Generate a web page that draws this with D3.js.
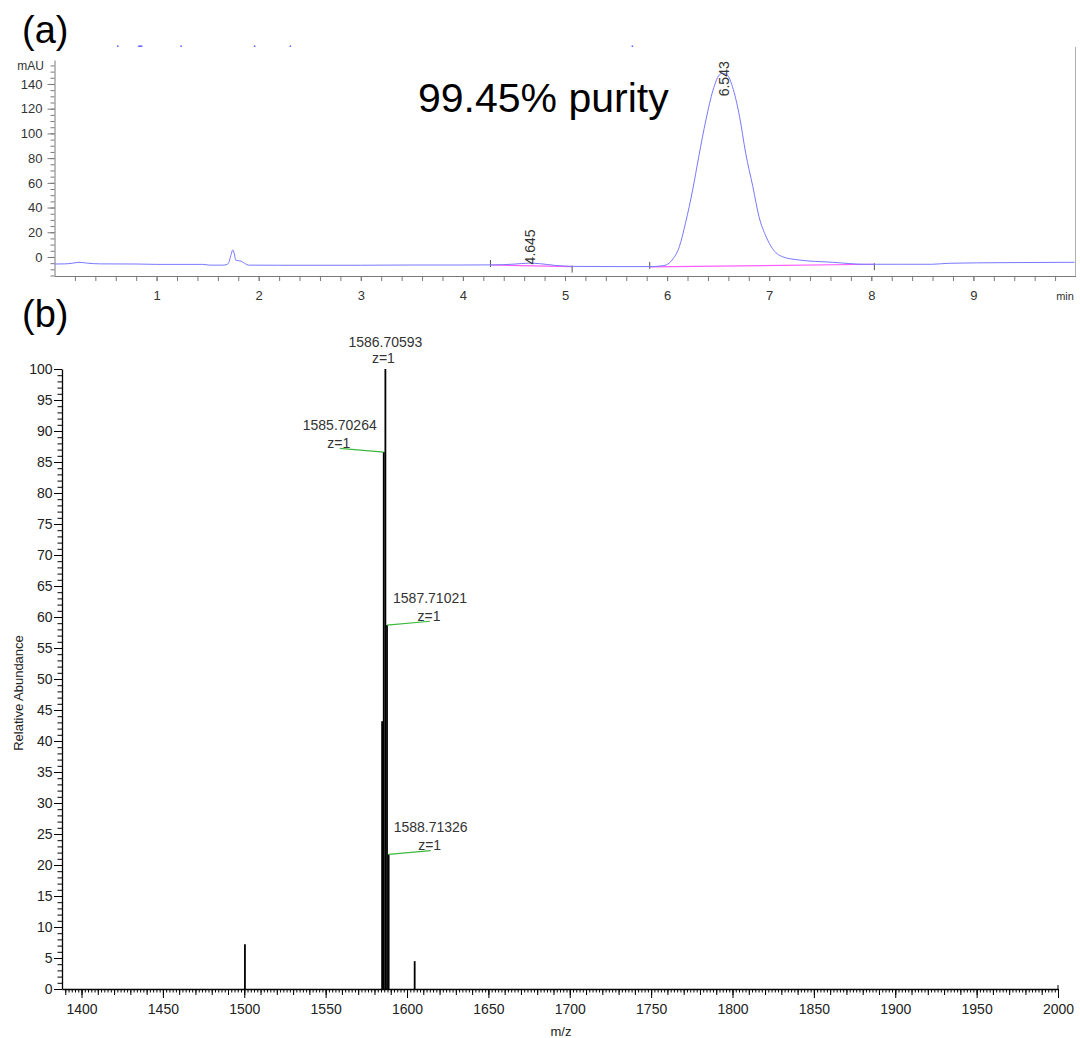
<!DOCTYPE html>
<html><head><meta charset="utf-8">
<script src="https://cdn.jsdelivr.net/npm/d3@7"></script>
<style>
body{margin:0;background:#fff}
svg{display:block}
text{font-family:"Liberation Sans",Arial,Helvetica,sans-serif}
</style>
</head><body>
<svg id="chart" width="1080" height="1038"></svg>
<script>
// ---------- Panel (a): HPLC chromatogram ----------
const hplcTime = [0.00,0.10,0.18,0.24,0.32,0.45,0.80,1.00,1.20,1.45,1.52,1.66,1.70,1.73,1.745,1.76,1.775,1.80,1.83,1.87,1.90,2.20,3.00,3.50,4.00,4.30,4.50,4.645,4.75,4.90,5.07,5.50,5.83,5.95,5.99,6.05,6.12,6.18,6.25,6.31,6.38,6.45,6.51,6.54,6.59,6.64,6.71,6.77,6.84,6.90,6.97,7.03,7.13,7.29,7.62,7.94,8.27,8.60,8.76,9.30,9.99];
const hplcAbs  = [-5.7,-5.6,-5.0,-4.3,-5.0,-5.6,-5.7,-6.0,-6.0,-6.0,-6.6,-6.6,-5.5,2.0,5.7,3.0,-2.5,-3.0,-3.5,-5.5,-6.6,-6.7,-6.7,-6.5,-6.5,-6.4,-5.8,-5.0,-5.4,-6.8,-7.6,-7.8,-7.8,-7.2,-6.5,-2.4,8.3,27.3,54.2,81.2,110.8,135.1,147.2,148.6,147.2,137.8,113.5,83.9,56.9,32.6,16.4,7.0,0.2,-2.4,-4.3,-5.9,-5.9,-5.9,-5.1,-4.6,-4.3];
const baseStartTime = [4.27, 5.83];
const baseStartAbs  = [-6.5, -8.0];
const baseEndTime   = [5.07, 8.03];
const baseEndAbs    = [-7.8, -5.9];
const peakRT        = [4.645, 6.543];
const peakRTLabel   = ["4.645", "6.543"];
const peakRTLabelBase = [-6.0, 130];
const artifactTimes = [0.62, 0.84, 1.24, 1.96, 2.31, 5.66];
const artifactAbs   = [170.6, 170.6, 170.6, 170.6, 170.6, 170.6];
const aXTicks = [1,2,3,4,5,6,7,8,9];
const aYTicks = [0,20,40,60,80,100,120,140];
const purityText = "99.45% purity";

// ---------- Panel (b): mass spectrum ----------
const msMz    = [1500.4, 1584.7, 1585.70264, 1586.70593, 1587.71021, 1588.71326, 1604.7];
const msAbund = [7.2, 43.2, 86.6, 100, 58.7, 21.7, 4.5];
const labelMz     = [1585.70264, 1586.70593, 1587.71021, 1588.71326];
const labelAbund  = [86.6, 100, 58.7, 21.7];
const labelText   = ["1585.70264", "1586.70593", "1587.71021", "1588.71326"];
const labelCharge = ["z=1", "z=1", "z=1", "z=1"];
const labelShiftPx = [-44, 0, 43, 42];
const bXTicks = [1400,1450,1500,1550,1600,1650,1700,1750,1800,1850,1900,1950,2000];
const bYTicks = d3.range(0, 101, 5);

const svg = d3.select("#chart");
svg.append("rect").attr("width",1080).attr("height",1038).attr("fill","#fff");

// ===== Panel (a) =====
const xa = d3.scaleLinear().domain([0,10]).range([54.5,1075.5]);
const ya = d3.scaleLinear().domain([-15.4,159.4]).range([276,60]);
const aCol = "#7a7a7a";

const aMinorX = svg.append("g").attr("transform","translate(0,276)")
  .call(d3.axisBottom(xa).tickValues(d3.range(0.2,10,0.2)).tickSize(5).tickSizeOuter(0).tickFormat(""));
const aMajorX = svg.append("g").attr("transform","translate(0,276)")
  .call(d3.axisBottom(xa).tickValues(aXTicks).tickSize(5).tickSizeOuter(0).tickPadding(10).tickFormat(d3.format("d")));
aMajorX.select(".domain").remove();
const aMinorY = svg.append("g").attr("transform","translate(54.5,0)")
  .call(d3.axisLeft(ya).tickValues(d3.range(-15,160,5)).tickSize(4).tickSizeOuter(0).tickFormat(""));
const aMajorY = svg.append("g").attr("transform","translate(54.5,0)")
  .call(d3.axisLeft(ya).tickValues(aYTicks).tickSize(7).tickPadding(5).tickFormat(d3.format("d")));
aMajorY.select(".domain").remove();
[aMinorX,aMajorX,aMinorY,aMajorY].forEach(g=>{
  g.selectAll("path,line").attr("stroke",aCol).attr("stroke-width",1);
  g.selectAll("text").attr("fill","#333").attr("font-size",13).attr("font-family","Liberation Sans, Arial, sans-serif");
});
// right border
svg.append("line").attr("x1",xa(10)).attr("x2",xa(10)).attr("y1",47).attr("y2",276)
  .attr("stroke","#b0b0b0").attr("stroke-width",1);
svg.append("text").attr("x",44).attr("y",70).attr("text-anchor","end")
  .attr("font-size",12).attr("fill","#333").text("mAU");
svg.append("text").attr("x",1065).attr("y",300).attr("text-anchor","middle")
  .attr("font-size",11).attr("fill","#333").text("min");

// integration baselines (pink)
baseStartTime.forEach((t,i)=>{
  svg.append("line").attr("x1",xa(t)).attr("y1",ya(baseStartAbs[i]))
    .attr("x2",xa(baseEndTime[i])).attr("y2",ya(baseEndAbs[i]))
    .attr("stroke","#ff5cff").attr("stroke-width",1.2);
  svg.append("line").attr("x1",xa(t)).attr("x2",xa(t))
    .attr("y1",ya(baseStartAbs[i])-5).attr("y2",ya(baseStartAbs[i])+2)
    .attr("stroke","#555").attr("stroke-width",1);
  svg.append("line").attr("x1",xa(baseEndTime[i])).attr("x2",xa(baseEndTime[i]))
    .attr("y1",ya(baseEndAbs[i])-1).attr("y2",ya(baseEndAbs[i])+6)
    .attr("stroke","#555").attr("stroke-width",1);
});

// trace
const trace = hplcTime.map((t,i)=>[t,hplcAbs[i]]);
svg.append("path").datum(trace)
  .attr("d", d3.line().x(d=>xa(d[0])).y(d=>ya(d[1])).curve(d3.curveMonotoneX))
  .attr("fill","none").attr("stroke","#7878ff").attr("stroke-width",1);

// artifact specks
svg.selectAll(".spk").data(artifactTimes).join("ellipse")
  .attr("cx",(d)=>xa(d)).attr("cy",(d,i)=>ya(artifactAbs[i]))
  .attr("rx",(d,i)=>i===1?2.5:0.9).attr("ry",0.9).attr("fill","#6a6aff");

// RT labels
peakRT.forEach((t,i)=>{
  svg.append("text")
    .attr("transform",`translate(${xa(t)+6},${ya(peakRTLabelBase[i])}) rotate(-90)`)
    .attr("font-size",14).attr("fill","#333").text(peakRTLabel[i]);
});

svg.append("text").attr("x",418).attr("y",112).attr("font-size",41).attr("fill","#000").text(purityText);
svg.append("text").attr("x",22).attr("y",42.5).attr("font-size",38).attr("fill","#000").text("(a)");

// ===== Panel (b) =====
const xb = d3.scaleLinear().domain([1388,2000]).range([62,1058]);
const yb = d3.scaleLinear().domain([0,100]).range([989,369]);

const bX2 = svg.append("g").attr("transform","translate(0,989)")
  .call(d3.axisBottom(xb).tickValues(d3.range(1390,2000.1,2)).tickSize(3.5).tickSizeOuter(0).tickFormat(""));
const bX10 = svg.append("g").attr("transform","translate(0,989)")
  .call(d3.axisBottom(xb).tickValues(d3.range(1390,2000.1,10)).tickSize(6).tickFormat(""));
bX10.select(".domain").remove();
const bX50 = svg.append("g").attr("transform","translate(0,989)")
  .call(d3.axisBottom(xb).tickValues(bXTicks).tickSize(9).tickPadding(6).tickFormat(d3.format("d")));
bX50.select(".domain").remove();
const bY1 = svg.append("g").attr("transform","translate(62,0)")
  .call(d3.axisLeft(yb).tickValues(d3.range(0,101,1)).tickSize(4.5).tickSizeOuter(0).tickFormat(""));
const bY5 = svg.append("g").attr("transform","translate(62,0)")
  .call(d3.axisLeft(yb).tickValues(bYTicks).tickSize(8).tickPadding(1.5).tickFormat(d3.format("d")));
bY5.select(".domain").remove();
[bX2,bX10,bX50,bY1,bY5].forEach(g=>{
  g.selectAll("path,line").attr("stroke","#000").attr("stroke-width",1);
  g.selectAll("text").attr("fill","#222").attr("font-size",14).attr("font-family","Liberation Sans, Arial, sans-serif");
});
bX2.select(".domain").attr("stroke-width",1.6);
bY1.select(".domain").attr("stroke-width",1.3);
// end cap tick
svg.append("line").attr("x1",xb(2000)).attr("x2",xb(2000)).attr("y1",yb(0)).attr("y2",yb(0)-4)
  .attr("stroke","#000").attr("stroke-width",1);

// sticks
svg.selectAll(".stick").data(msMz).join("line")
  .attr("x1",d=>xb(d)).attr("x2",d=>xb(d))
  .attr("y1",yb(0)).attr("y2",(d,i)=>yb(msAbund[i]))
  .attr("stroke","#000").attr("stroke-width",1.8);

// annotations
labelMz.forEach((mz,i)=>{
  const px = xb(mz), py = yb(labelAbund[i]);
  const cx = px + labelShiftPx[i];
  if (labelShiftPx[i] !== 0) {
    svg.append("line").attr("x1",px).attr("y1",py).attr("x2",cx).attr("y2",py-3.8)
      .attr("stroke","#3cb83c").attr("stroke-width",1.2);
  }
  svg.append("text").attr("x",cx).attr("y",py-22.5).attr("text-anchor","middle")
    .attr("font-size",14).attr("fill","#333").text(labelText[i]);
  svg.append("text").attr("x",cx - (labelShiftPx[i]===0?2:1)).attr("y",py-(labelShiftPx[i]===0?6:4.5)).attr("text-anchor","middle")
    .attr("font-size",14).attr("fill","#333").text(labelCharge[i]);
});

svg.append("text").attr("transform","translate(23,693) rotate(-90)").attr("text-anchor","middle")
  .attr("font-size",13).attr("fill","#222").text("Relative Abundance");
svg.append("text").attr("x",561).attr("y",1036).attr("text-anchor","middle")
  .attr("font-size",13).attr("fill","#222").text("m/z");
svg.append("text").attr("x",22).attr("y",327).attr("font-size",38).attr("fill","#000").text("(b)");
</script>
</body></html>
